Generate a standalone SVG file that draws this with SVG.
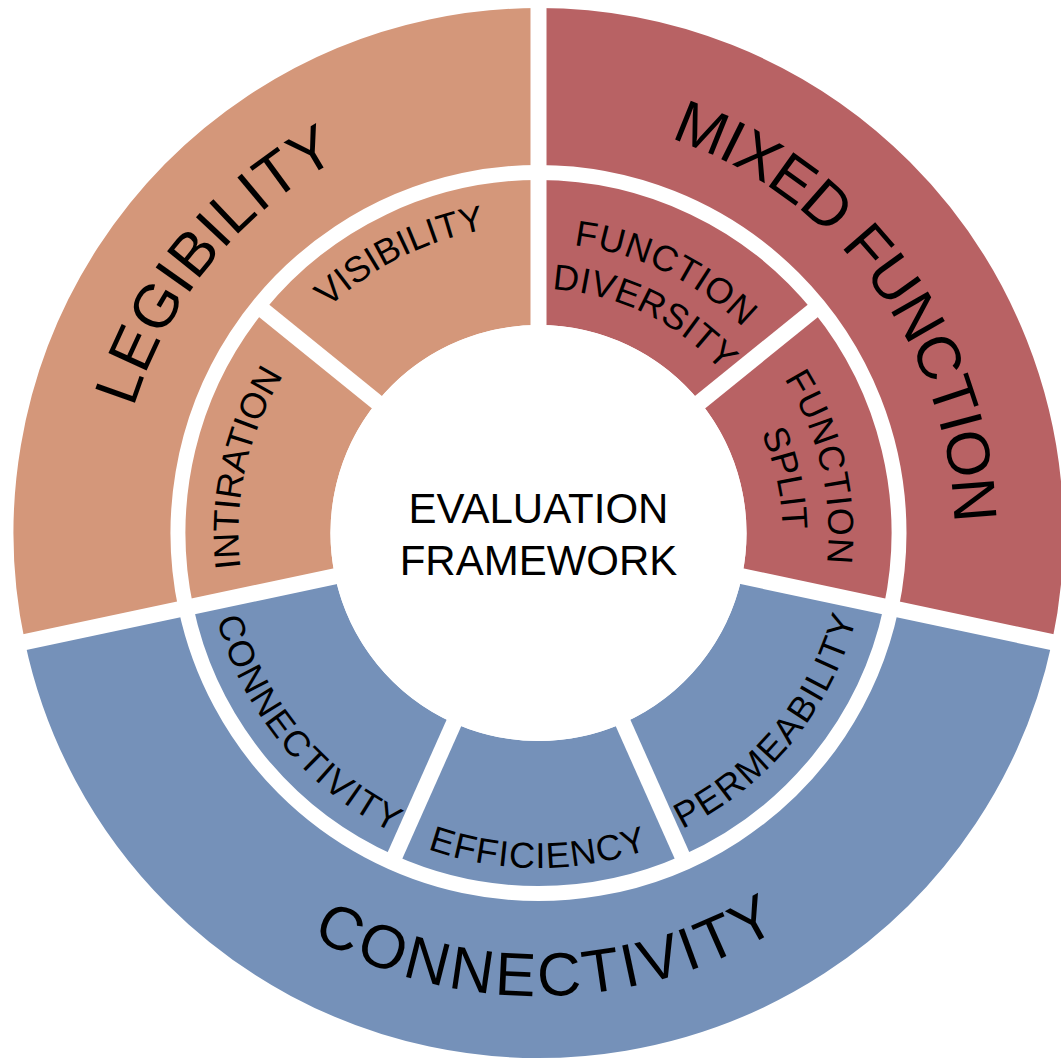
<svg xmlns="http://www.w3.org/2000/svg" xmlns:xlink="http://www.w3.org/1999/xlink" width="1061" height="1063" viewBox="0 0 1061 1063">
<style>
.seg{fill:none;}
.orange{stroke:#D4977A;}
.red{stroke:#B86264;}
.blue{stroke:#7591B9;}
.outer{stroke-width:157;}
.inner{stroke-width:145;}
.lbl{font-family:"Liberation Sans",Arial,sans-serif;fill:#000;text-anchor:middle;}
.big{font-size:61px;}
.small{font-size:36px;}
.sep{stroke:#fff;stroke-width:16;fill:none;}
</style>
<defs>
<path id="cw424" d="M0,424 A424,424 0 1,1 0,-424 A424,424 0 1,1 0,424"/>
<path id="cw416" d="M0,416 A416,416 0 1,1 0,-416 A416,416 0 1,1 0,416"/>
<path id="ccw463" d="M0,-463 A463,463 0 1,0 0,463 A463,463 0 1,0 0,-463"/>
<path id="cw308" d="M0,308 A308,308 0 1,1 0,-308 A308,308 0 1,1 0,308"/>
<path id="cw300" d="M0,300 A300,300 0 1,1 0,-300 A300,300 0 1,1 0,300"/>
<path id="cw290" d="M0,290 A290,290 0 1,1 0,-290 A290,290 0 1,1 0,290"/>
<path id="cw244" d="M0,244 A244,244 0 1,1 0,-244 A244,244 0 1,1 0,244"/>
<path id="ccw333" d="M0,-333 A333,333 0 1,0 0,333 A333,333 0 1,0 0,-333"/>
<path id="ccw335" d="M0,-335 A335,335 0 1,0 0,335 A335,335 0 1,0 0,-335"/>
<path id="ccw329" d="M0,-329 A329,329 0 1,0 0,329 A329,329 0 1,0 0,-329"/>
</defs>
<rect width="1061" height="1063" fill="#fff"/>

<g id="legibility">
<circle class="seg orange outer" cx="538.5" cy="533" r="446.5" pathLength="360" stroke-dasharray="102 258" transform="rotate(168 538.5 533)"/>
<text class="lbl big" letter-spacing="0.6" transform="translate(538.5,533) rotate(309.6)"><textPath xlink:href="#cw424" href="#cw424" startOffset="50%">LEGIBILITY</textPath></text>
</g>
<g id="mixed-function">
<circle class="seg red outer" cx="538.5" cy="533" r="446.5" pathLength="360" stroke-dasharray="102 258" transform="rotate(270 538.5 533)"/>
<text class="lbl big" letter-spacing="-1.2" transform="translate(538.5,533) rotate(53.5)"><textPath xlink:href="#cw416" href="#cw416" startOffset="50%">MIXED FUNCTION</textPath></text>
</g>
<g id="connectivity">
<circle class="seg blue outer" cx="538.5" cy="533" r="446.5" pathLength="360" stroke-dasharray="156 204" transform="rotate(12 538.5 533)"/>
<text class="lbl big" letter-spacing="3.3" transform="translate(538.5,533) rotate(-1.2)"><textPath xlink:href="#ccw463" href="#ccw463" startOffset="50%">CONNECTIVITY</textPath></text>
</g>

<g id="intiration">
<circle class="seg orange inner" cx="538.5" cy="533" r="280.5" pathLength="360" stroke-dasharray="51 309" transform="rotate(168 538.5 533)"/>
<text class="lbl small" transform="translate(538.5,533) rotate(282.5)"><textPath xlink:href="#cw300" href="#cw300" startOffset="50%">INTIRATION</textPath></text>
</g>
<g id="visibility">
<circle class="seg orange inner" cx="538.5" cy="533" r="280.5" pathLength="360" stroke-dasharray="51 309" transform="rotate(219 538.5 533)"/>
<text class="lbl small" transform="translate(538.5,533) rotate(333.5)"><textPath xlink:href="#cw308" href="#cw308" startOffset="50%">VISIBILITY</textPath></text>
</g>
<g id="function-diversity">
<circle class="seg red inner" cx="538.5" cy="533" r="280.5" pathLength="360" stroke-dasharray="51 309" transform="rotate(270 538.5 533)"/>
<text class="lbl small" letter-spacing="0.8" transform="translate(538.5,533) rotate(26)"><textPath xlink:href="#cw290" href="#cw290" startOffset="50%">FUNCTION</textPath></text>
<text class="lbl small" letter-spacing="0.5" transform="translate(538.5,533) rotate(26)"><textPath xlink:href="#cw244" href="#cw244" startOffset="50%">DIVERSITY</textPath></text>
</g>
<g id="function-split">
<circle class="seg red inner" cx="538.5" cy="533" r="280.5" pathLength="360" stroke-dasharray="51 309" transform="rotate(321 538.5 533)"/>
<text class="lbl small" letter-spacing="1" transform="translate(538.5,533) rotate(77)"><textPath xlink:href="#cw290" href="#cw290" startOffset="50%">FUNCTION</textPath></text>
<text class="lbl small" transform="translate(538.5,533) rotate(77.5)"><textPath xlink:href="#cw244" href="#cw244" startOffset="50%">SPLIT</textPath></text>
</g>
<g id="permeability">
<circle class="seg blue inner" cx="538.5" cy="533" r="280.5" pathLength="360" stroke-dasharray="54 306" transform="rotate(12 538.5 533)"/>
<text class="lbl small" letter-spacing="1.8" transform="translate(538.5,533) rotate(-50.6)"><textPath xlink:href="#ccw329" href="#ccw329" startOffset="50%">PERMEABILITY</textPath></text>
</g>
<g id="efficiency">
<circle class="seg blue inner" cx="538.5" cy="533" r="280.5" pathLength="360" stroke-dasharray="48 312" transform="rotate(66 538.5 533)"/>
<text class="lbl small" letter-spacing="1.2" transform="translate(538.5,533) rotate(0)"><textPath xlink:href="#ccw335" href="#ccw335" startOffset="50%">EFFICIENCY</textPath></text>
</g>
<g id="connectivity-sub">
<circle class="seg blue inner" cx="538.5" cy="533" r="280.5" pathLength="360" stroke-dasharray="54 306" transform="rotate(114 538.5 533)"/>
<text class="lbl small" letter-spacing="1.6" transform="translate(538.5,533) rotate(50.3)"><textPath xlink:href="#ccw333" href="#ccw333" startOffset="50%">CONNECTIVITY</textPath></text>
</g>

<g id="separators">
<line class="sep" x1="538.5" y1="533" x2="1061.8" y2="644.2"/>
<line class="sep" x1="538.5" y1="533" x2="15.2" y2="644.2"/>
<line class="sep" x1="538.5" y1="533" x2="538.5" y2="-2"/>
<line class="sep" x1="538.5" y1="533" x2="257.2" y2="305.2"/>
<line class="sep" x1="538.5" y1="533" x2="819.8" y2="305.2"/>
<line class="sep" x1="538.5" y1="533" x2="685.7" y2="863.7"/>
<line class="sep" x1="538.5" y1="533" x2="391.3" y2="863.7"/>
</g>

<g id="evaluation-framework">
<circle cx="538.5" cy="533" r="208" fill="#fff"/>
<text class="lbl" font-size="42" x="538.5" y="523">EVALUATION</text>
<text class="lbl" font-size="42" x="538.5" y="575">FRAMEWORK</text>
</g>
</svg>
